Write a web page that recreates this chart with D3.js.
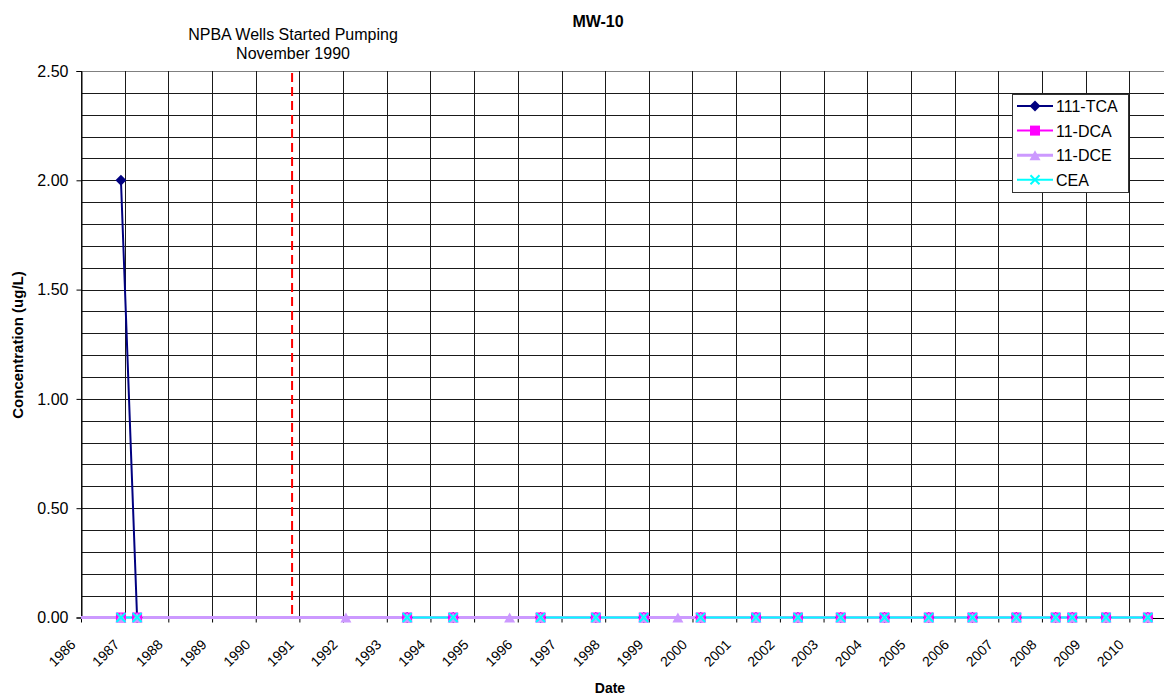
<!DOCTYPE html>
<html><head><meta charset="utf-8">
<script src="https://cdn.jsdelivr.net/npm/d3@7"></script>
<style>body{margin:0;background:#fff;}svg{display:block;font-family:"Liberation Sans",Arial,sans-serif;}</style>
</head><body>
<svg id="chart" width="1164" height="698"></svg>
<script>
// ---- data ----
const sampleDates = ["1985-11-01","1986-12-01","1987-04-15","1992-01-25","1993-06-20","1994-07-10","1995-10-25","1996-07-10","1997-10-15","1998-11-20","1999-09-01","2000-03-10","2001-06-15","2002-06-01","2003-05-25","2004-05-25","2005-05-30","2006-05-30","2007-06-01","2008-04-25","2008-09-10","2009-06-20","2010-06-05"];
const tca111 = [null,2.0,0,null,0,0,null,0,0,0,null,0,0,0,0,0,0,0,0,0,0,0,0];
const dca11  = [null,0,0,null,0,0,null,0,0,0,null,0,0,0,0,0,0,0,0,0,0,0,0];
const dce11  = [0,0,0,0,0,0,0,0,0,0,0,0,0,0,0,0,0,0,0,0,0,0,0];
const cea    = [null,0,0,null,0,0,null,0,0,0,null,0,0,0,0,0,0,0,0,0,0,0,0];
const seriesNames = ["111-TCA","11-DCA","11-DCE","CEA"];
const seriesColors = ["#000080","#FF00FF","#CC99FF","#00FFFF"];
const yTickLabels = ["0.00","0.50","1.00","1.50","2.00","2.50"];
const xYears = d3.range(1986, 2011);
const pumpDate = "1990-11-01";
const annotationLines = ["NPBA Wells Started Pumping","November 1990"];

// ---- layout ----
const svg = d3.select("#chart");
const L = 81, R = 1173, T = 71, B = 617.5;
const parse = d3.timeParse("%Y-%m-%d");
const x = d3.scaleTime().domain([new Date(1986,0,1), new Date(2011,0,1)]).range([L, R]);
const y = d3.scaleLinear().domain([0, 2.5]).range([B, T]);

svg.append("defs").append("clipPath").attr("id","clip")
  .append("rect").attr("x", L).attr("y", T-10).attr("width", 1164-L).attr("height", B-T+20);

// gridlines
const grid = svg.append("g").attr("stroke","#1a1a1a").attr("stroke-width",1).attr("shape-rendering","crispEdges");
d3.range(0, 26).forEach(i => {
  const v = i/10;
  grid.append("line").attr("x1", L).attr("x2", 1164).attr("y1", Math.round(y(v))+0.5).attr("y2", Math.round(y(v))+0.5)
    .attr("stroke", i===25 ? "#808080" : "#1a1a1a");
});
xYears.concat([2011]).forEach(yr => {
  const xx = Math.round(x(new Date(yr,0,1)))+0.5;
  grid.append("line").attr("x1", xx).attr("x2", xx).attr("y1", T).attr("y2", B);
});

// axes
const yAxis = d3.axisLeft(y).tickValues(yTickLabels.map(Number)).tickFormat((d,i)=>yTickLabels[i]).tickSize(5).tickPadding(8);
const gy = svg.append("g").attr("transform", `translate(${L+0.5},0)`).call(yAxis);
gy.select(".domain").attr("stroke","#000");
gy.selectAll(".tick line").attr("stroke","#000");
gy.selectAll("text").attr("font-size", 16).attr("fill","#000").attr("font-family","Liberation Sans, Arial, sans-serif");

const xAxis = d3.axisBottom(x).tickValues(xYears.map(yr => new Date(yr,0,1))).tickFormat(d3.timeFormat("%Y")).tickSize(5).tickPadding(0);
const gx = svg.append("g").attr("transform", `translate(0,${B})`).call(xAxis);
gx.select(".domain").remove();
gx.selectAll(".tick line").attr("stroke","#000");
gx.selectAll("text").attr("font-size", 14).attr("fill","#000").attr("font-family","Liberation Sans, Arial, sans-serif")
  .attr("text-anchor","end").attr("dy", 0).attr("y", 0)
  .attr("transform", "translate(-5,28) rotate(-45)");
svg.append("line").attr("x1", L).attr("x2", 1164).attr("y1", Math.round(B)+0.5).attr("y2", Math.round(B)+0.5)
  .attr("stroke","#000").attr("shape-rendering","crispEdges");

// pump line
const px = x(parse(pumpDate));
svg.append("line").attr("x1", px).attr("x2", px).attr("y1", T+2).attr("y2", B)
  .attr("stroke","#FF0000").attr("stroke-width",2).attr("stroke-dasharray","9,5");

// series
const allSeries = [tca111, dca11, dce11, cea];
const lineWidths = [2, 2, 3, 2];
const plot = svg.append("g").attr("clip-path","url(#clip)");
const lineGen = d3.line().defined(d => d.v !== null).x(d => x(d.date)).y(d => y(d.v));
const seriesData = allSeries.map(vals => sampleDates.map((s,i)=>({date: parse(s), v: vals[i]})));
seriesData.forEach((data, k) => {
  plot.append("path").datum(data).attr("fill","none").attr("stroke", seriesColors[k])
    .attr("stroke-width", lineWidths[k]).attr("stroke-linejoin","round").attr("d", lineGen);
});
function marker(g, k, cx, cy) {
  const c = seriesColors[k];
  if (k===0) g.append("path").attr("d", `M${cx},${cy-5.5}L${cx+5.5},${cy}L${cx},${cy+5.5}L${cx-5.5},${cy}Z`).attr("fill", c);
  else if (k===1) g.append("rect").attr("x", cx-5).attr("y", cy-5).attr("width",10).attr("height",10).attr("fill", c);
  else if (k===2) g.append("path").attr("d", `M${cx},${cy-5}L${cx+5.5},${cy+5}L${cx-5.5},${cy+5}Z`).attr("fill", c);
  else g.append("path").attr("d", `M${cx-4.5},${cy-4.5}L${cx+4.5},${cy+4.5}M${cx+4.5},${cy-4.5}L${cx-4.5},${cy+4.5}`).attr("stroke", c).attr("stroke-width",2);
}
seriesData.forEach((data, k) => {
  const g = plot.append("g");
  data.filter(d => d.v !== null).forEach(d => marker(g, k, x(d.date), y(d.v)));
});

// legend
const lg = svg.append("g");
lg.append("rect").attr("x", 1012.5).attr("y", 94.5).attr("width", 116).attr("height", 98)
  .attr("fill","#fff").attr("stroke","#333").attr("stroke-width",1);
seriesNames.forEach((n, k) => {
  const ly = 106 + k*24.6;
  lg.append("line").attr("x1", 1017).attr("x2", 1053).attr("y1", ly).attr("y2", ly)
    .attr("stroke", seriesColors[k]).attr("stroke-width", lineWidths[k]);
  marker(lg, k, 1035, ly);
  lg.append("text").attr("x", 1056).attr("y", ly+6).attr("font-size", 16).text(n);
});

// titles
svg.append("text").attr("x", 598).attr("y", 27).attr("text-anchor","middle").attr("font-weight","bold").attr("font-size", 16).text("MW-10");
annotationLines.forEach((t,i) => {
  svg.append("text").attr("x", 293).attr("y", 39.5 + i*19.5).attr("text-anchor","middle").attr("font-size", 16).text(t);
});
svg.append("text").attr("transform", "translate(23,345) rotate(-90)").attr("text-anchor","middle")
  .attr("font-weight","bold").attr("font-size", 15).text("Concentration (ug/L)");
svg.append("text").attr("x", 610).attr("y", 693).attr("text-anchor","middle").attr("font-weight","bold").attr("font-size", 14).text("Date");
</script>
</body></html>
